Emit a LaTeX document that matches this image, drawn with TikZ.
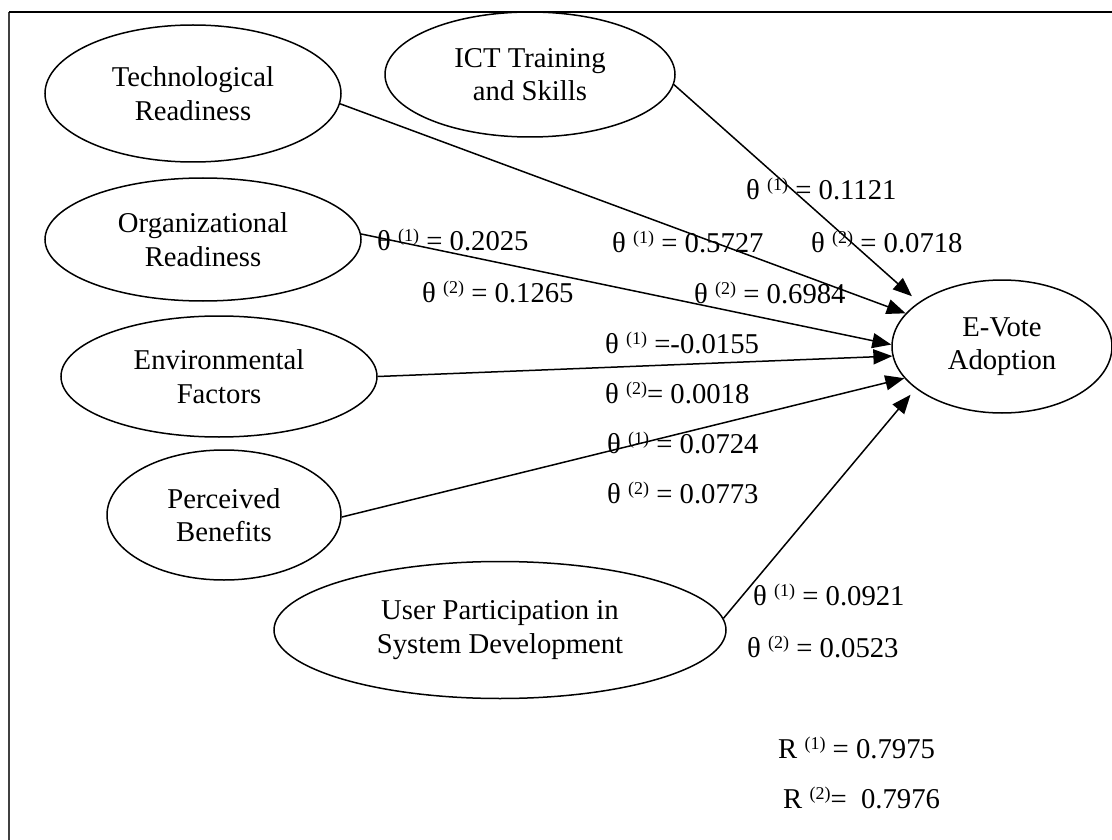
\documentclass[tikz,border=0pt]{standalone}
\usepackage{fontspec}
\setmainfont{Liberation Serif}
\usetikzlibrary{shapes.geometric,arrows.meta}
% parenthesised superscript index, e.g. (1)
\newcommand\supx[1]{\raisebox{9pt}{\fontsize{18}{18}\selectfont(#1)}}
\begin{document}
\begin{tikzpicture}[x=1pt,y=-1pt,
  font=\fontsize{28.7}{33.5}\selectfont,
  construct/.style={draw,ellipse,line width=1.5pt,inner sep=0pt,align=center},
  path/.style={line width=1.5pt,-{Triangle[length=19pt,width=15pt]}},
  coef/.style={anchor=base west,inner sep=0pt}]
\useasboundingbox (0,0) rectangle (1112,840);
% outer frame
\draw[line width=1.5pt,black!75] (9,840) -- (9,12);
\draw[line width=1.5pt] (9,12) -- (1112,12);

% constructs
\node[construct,minimum width=296pt,minimum height=137pt] (tech) at (193,93.5) {Technological\\Readiness};
\node[construct,minimum width=290pt,minimum height=125pt] (ict) at (530,74.5) {ICT Training\\and Skills};
\node[construct,minimum width=316pt,minimum height=123pt] (org) at (203,239.5) {Organizational\\Readiness};
\node[construct,minimum width=316pt,minimum height=121pt] (env) at (219,376.5) {Environmental\\Factors};
\node[construct,minimum width=234pt,minimum height=130pt] (ben) at (224,515) {Perceived\\Benefits};
\node[construct,minimum width=452pt,minimum height=137pt] (usr) at (500,630) {User Participation in\\System Development};
\node[construct,minimum width=220pt,minimum height=133pt] (ev) at (1002,346.5) {E-Vote\\Adoption};

% paths to adoption
\draw[path] (tech.-4.8) -- (ev.161.7);
\draw[path,shorten >=9pt] (ict.-4.2) -- (ev.152);
\draw[path] (org.2) -- (ev.179.2);
\draw[path] (env.-0.5) -- (ev.185.5);
\draw[path] (ben.-1) -- (ev.198);
\draw[path,shorten >=8pt] (usr.3.3) -- (ev.206.9);

% path coefficients
\node[coef] (c1) at (746,200) {θ \supx{1} = 0.1121};
\node[coef] (c2) at (811,252) {θ \supx{2} = 0.0718};
\node[coef] (c3) at (612,252) {θ \supx{1} = 0.5727};
\node[coef] (c4) at (694,303) {θ \supx{2} = 0.6984};
\node[coef] (c5) at (377,250) {θ \supx{1} = 0.2025};
\node[coef] (c6) at (422,302) {θ \supx{2} = 0.1265};
\node[coef] (c7) at (605,353) {θ \supx{1} =-0.0155};
\node[coef] (c8) at (605,403) {θ \supx{2}= 0.0018};
\node[coef] (c9) at (607,453) {θ \supx{1} = 0.0724};
\node[coef] (c10) at (607,503) {θ \supx{2} = 0.0773};
\node[coef] (c11) at (753,605) {θ \supx{1} = 0.0921};
\node[coef] (c12) at (747,657) {θ \supx{2} = 0.0523};
\node[coef] (r1) at (778,758) {R \supx{1} = 0.7975};
\node[coef] (r2) at (783,808) {R \supx{2}=\ \ 0.7976};
\end{tikzpicture}
\end{document}
